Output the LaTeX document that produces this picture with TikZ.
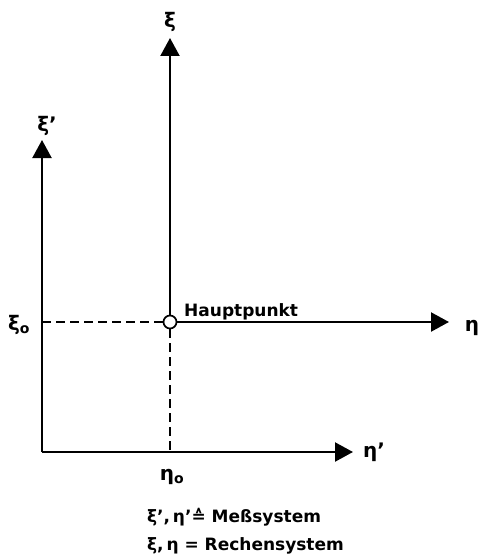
\documentclass[tikz,border=0pt]{standalone}
\usepackage{fontspec}
\setmainfont{DejaVu Sans}
\usetikzlibrary{arrows.meta,positioning}

\begin{document}
\begin{tikzpicture}[x=1pt,y=-1pt,font=\fontsize{17}{20}\selectfont\bfseries,
  axis/.style={line width=2.2pt,-{Triangle[length=18pt,width=19pt]}},
  guide/.style={line width=1.5pt,dash pattern=on 9pt off 5pt},
  point/.style={circle,draw,line width=1.7pt,fill=white,minimum size=13pt,inner sep=0pt},
  greek/.style={font=\fontsize{20}{22}\selectfont\bfseries}]
  \useasboundingbox (0,0) rectangle (483,559);
  % Messsystem
  \coordinate (orig) at (42,452);
  \coordinate (xiMtop) at (42,140);
  \coordinate (etaMend) at (353,452);
  \coordinate (xiOfoot) at (42,322);
  \coordinate (etaOfoot) at (170,452);
  % Rechensystem
  \node[point] (hp) at (170,322) {};
  \coordinate (xitop) at (170,38);
  \coordinate (etaend) at (449,322);
  \draw[guide] (xiOfoot) -- (hp.west);
  \draw[guide] (hp.south) -- (etaOfoot);
  \draw[axis] (orig) -- (xiMtop);
  \draw[axis] (orig) -- (etaMend);
  \draw[axis] (hp.north) -- (xitop);
  \draw[axis] (hp.east) -- (etaend);
  \node[greek] (xilbl) at (170,22) {ξ};
  \node[greek] (xiMlbl) at (47,126) {ξ’};
  \node[greek] (etalbl) at (472,328) {η};
  \node[greek] (etaMlbl) at (374,452) {η’};
  \node[greek] (xiO) at (19,325) {ξ\textsubscript{o}};
  \node[greek] (etaO) at (172,477) {η\textsubscript{o}};
  \node[anchor=base west,inner sep=0pt] (hplbl) at (184,316) {Hauptpunkt};
  \node[anchor=base west,inner sep=0pt] (mess) at (147,522) {ξ’,\,η’≙ Meßsystem};
  \node[anchor=base west,inner sep=0pt] (rech) at (147,550) {ξ,\,η = Rechensystem};
\end{tikzpicture}
\end{document}
